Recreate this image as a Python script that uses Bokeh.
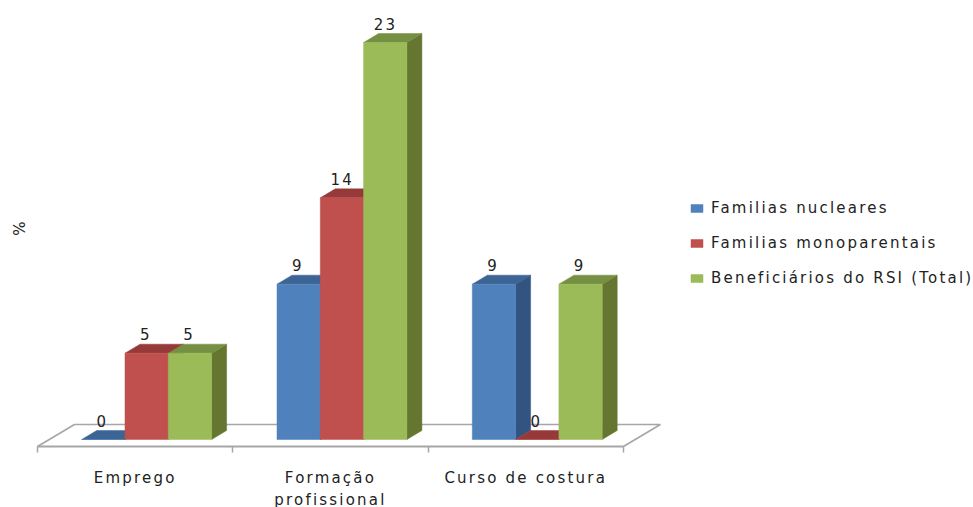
import math

from bokeh.core.properties import value
from bokeh.embed import file_html
from bokeh.models import (ColumnDataSource, FixedTicker, Legend, LegendItem,
                          LinearAxis, Range1d)
from bokeh.plotting import figure
from bokeh.resources import INLINE

categories = ["Emprego", "Formação\nprofissional", "Curso de costura"]
series_names = ["Familias nucleares", "Familias monoparentais", "Beneficiários do RSI (Total)"]
familias_nucleares = [0, 9, 9]
familias_monoparentais = [5, 14, 0]
beneficiarios_total = [5, 23, 9]
series_values = [familias_nucleares, familias_monoparentais, beneficiarios_total]
y_title = "%"

front_colors = ["#4f81bd", "#c0504d", "#9bbb59"]
top_colors = ["#3c6494", "#953a38", "#769043"]
side_colors = ["#335480", "#953a38", "#64762f"]
TEXT = "#222222"
FONT = "DejaVu Sans"
FONT_SIZE = "15px"
LETTER_SPACING = 2.2

# The frame fills the canvas, so axis, names and title all live inside it
WIDTH, HEIGHT = 973, 507
AXIS_LEFT_PX, AXIS_BOTTOM_PX = 37, 61
PX_PER_CATEGORY = 195.3
PX_PER_UNIT = 17.26
BASE_PX_BELOW = 7  # gap between the bar bases and the floor's front edge

fx0, fx1 = -0.5, len(categories) - 0.5
y_low = -BASE_PX_BELOW / PX_PER_UNIT
x_start = fx0 - AXIS_LEFT_PX / PX_PER_CATEGORY
y_start = y_low - AXIS_BOTTOM_PX / PX_PER_UNIT
x_range = Range1d(x_start, x_start + WIDTH / PX_PER_CATEGORY)
y_range = Range1d(y_start, y_start + HEIGHT / PX_PER_UNIT)

p = figure(width=WIDTH, height=HEIGHT, x_range=x_range, y_range=y_range,
           output_backend="svg", toolbar_location=None, min_border=0,
           outline_line_color=None, x_axis_type=None, y_axis_type=None)
p.grid.visible = False
p.stylesheets = [":host { letter-spacing: %spx; }" % LETTER_SPACING]

# Oblique depth of the bars and of the floor, as data offsets
bar_dx, bar_dy = 15 / PX_PER_CATEGORY, 9 / PX_PER_UNIT
floor_dx, floor_dy = 37 / PX_PER_CATEGORY, 22 / PX_PER_UNIT
bar_w = 43.3 / PX_PER_CATEGORY
group_shift = 11.5 / PX_PER_CATEGORY

# Floor outline behind the bars
p.line([fx0, fx0 + floor_dx, fx1 + floor_dx, fx1],
       [y_low, y_low + floor_dy, y_low + floor_dy, y_low],
       line_color="#a6a6a6", line_width=1.6)

legend_items = []
for s, (name, vals) in enumerate(zip(series_names, series_values)):
    xs = [i + group_shift + (s - 1) * bar_w for i in range(len(vals))]
    tops_x, tops_y, sides_x, sides_y = [], [], [], []
    for x, v in zip(xs, vals):
        l, r = x - bar_w / 2, x + bar_w / 2
        tops_x.append([l, r, r + bar_dx, l + bar_dx])
        tops_y.append([v, v, v + bar_dy, v + bar_dy])
        sides_x.append([r, r + bar_dx, r + bar_dx, r])
        sides_y.append([0, bar_dy, v + bar_dy, v])
    p.patches(sides_x, sides_y, fill_color=side_colors[s], line_color=side_colors[s], line_width=0.5)
    p.patches(tops_x, tops_y, fill_color=top_colors[s], line_color=top_colors[s], line_width=0.5)
    front = p.vbar(x=xs, top=vals, bottom=0, width=bar_w,
                   fill_color=front_colors[s], line_color=front_colors[s], line_width=0.5)
    legend_items.append(LegendItem(label=name, renderers=[front]))

# Value labels above each bar's top face
for s, vals in enumerate(series_values):
    src = ColumnDataSource(dict(
        x=[i + group_shift + (s - 1) * bar_w for i in range(len(vals))],
        y=[v + bar_dy for v in vals],
        t=[str(v) for v in vals]))
    p.text(x="x", y="y", text="t", source=src, text_align="center",
           text_baseline="bottom", x_offset=-2, y_offset=-4, text_color=TEXT,
           text_font=value(FONT), text_font_size=FONT_SIZE)

# Category axis line with ticks on the group boundaries
xaxis = LinearAxis(
    fixed_location=y_low,
    ticker=FixedTicker(ticks=[], minor_ticks=[i - 0.5 for i in range(len(categories) + 1)]),
    bounds=(fx0, fx1),
    axis_line_color="#a6a6a6", axis_line_width=2,
    major_tick_line_color=None, major_label_text_color=None,
    minor_tick_line_color="#a6a6a6", minor_tick_line_width=1.5,
    minor_tick_in=0, minor_tick_out=6)
p.add_layout(xaxis, "below")

# Category names below the axis, one text per line; spaced text grows to the
# right of its anchor, so each line is pulled back by half of that growth
for i, category in enumerate(categories):
    for n, line in enumerate(category.split("\n")):
        p.text(x=[i], y=[y_low], text=[line],
               x_offset=-len(line) * LETTER_SPACING / 2, y_offset=31 + 22 * n,
               text_align="center", text_baseline="middle", text_color=TEXT,
               text_font=value(FONT), text_font_size=FONT_SIZE)

# Rotated value-axis title
p.text(x=[fx0], y=[y_low + (446 - 228) / PX_PER_UNIT], text=[y_title], x_offset=-18,
       angle=math.pi / 2, text_align="center", text_baseline="middle", text_color=TEXT,
       text_font=value(FONT), text_font_size=FONT_SIZE)

legend = Legend(items=legend_items, location=(689, 220),
                background_fill_alpha=0, border_line_color=None,
                glyph_width=15, glyph_height=10, spacing=17, margin=0, padding=0,
                label_standoff=7, label_text_font=FONT, label_text_font_size=FONT_SIZE,
                label_text_color=TEXT, label_height=15)
p.add_layout(legend, "center")

open("out.html", "w").write(file_html(p, INLINE))
